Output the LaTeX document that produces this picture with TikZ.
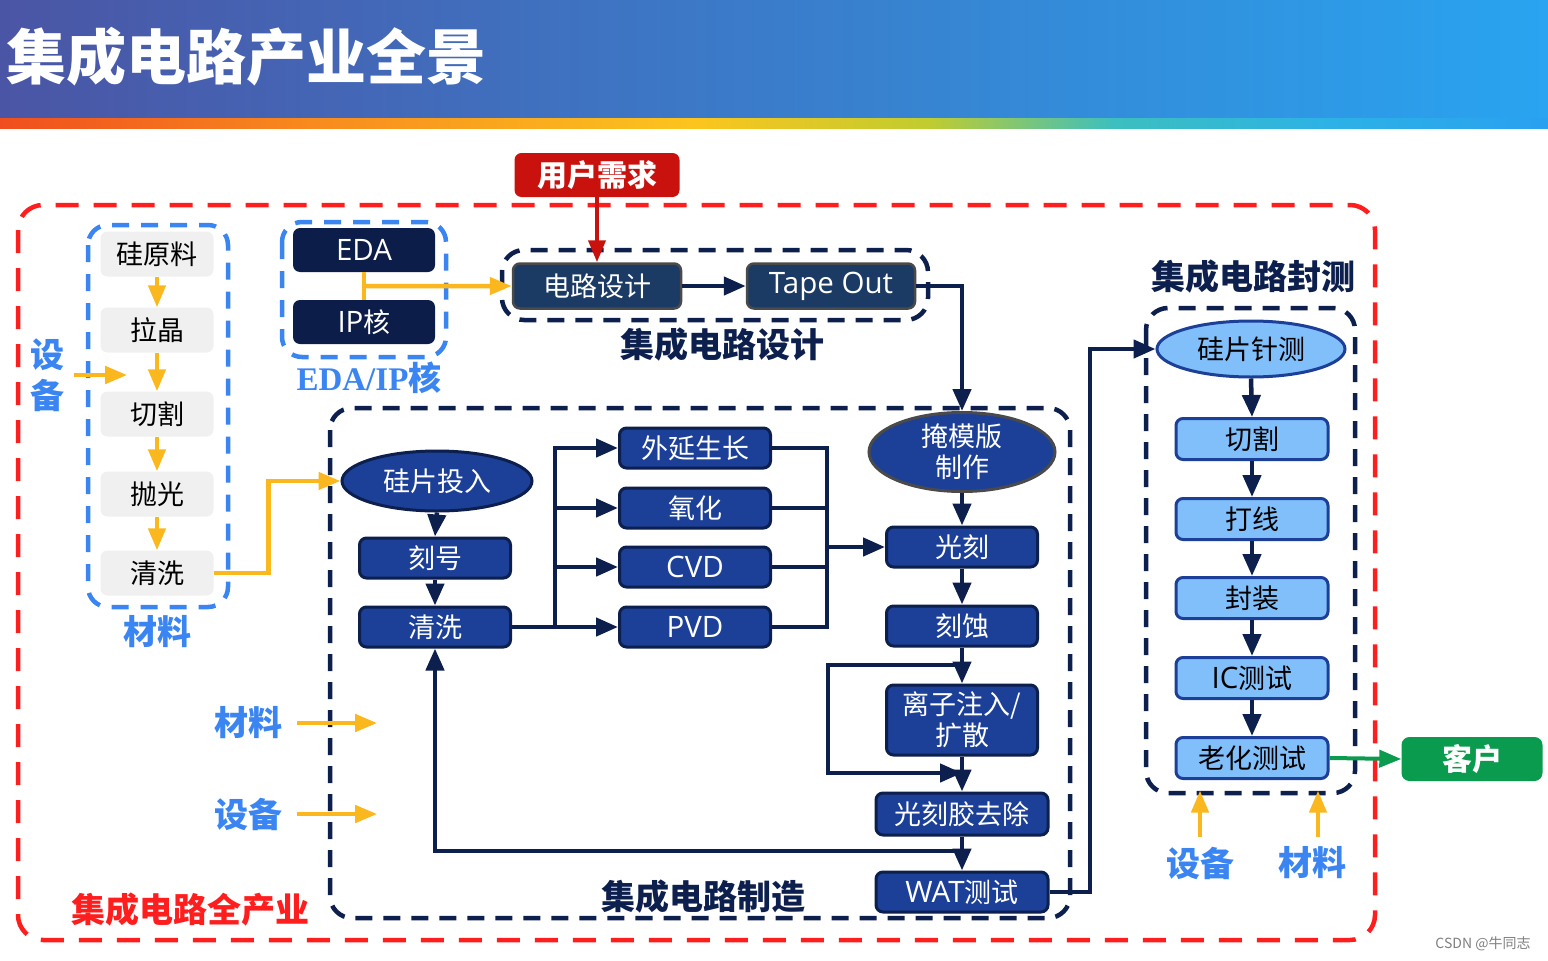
\documentclass[tikz,border=0pt]{standalone}
\usepackage{fontspec}
\usetikzlibrary{arrows.meta,shapes.geometric,calc}
\setmainfont{Noto Sans CJK SC}
\newfontfamily\os{Open Sans}
\newfontfamily\tms{Liberation Serif}
\newcommand{\lat}[1]{{\os\fontsize{29.5}{33}\selectfont #1}}
\definecolor{navy}{HTML}{0C1F4D}
\definecolor{pblue}{HTML}{1C3F98}
\definecolor{edanavy}{HTML}{0B1D48}
\definecolor{dslate}{HTML}{1B3A64}
\definecolor{dgray}{HTML}{4A4A4A}
\definecolor{lblue}{HTML}{80BFFA}
\definecolor{boxgray}{HTML}{F0F0F0}
\definecolor{yel}{HTML}{FBB71E}
\definecolor{dred}{HTML}{FF1E1E}
\definecolor{reqred}{HTML}{C9110E}
\definecolor{lblb}{HTML}{3A85F2}
\definecolor{grn}{HTML}{0B9B4E}
\definecolor{tl}{HTML}{4B55A5}
\definecolor{tm}{HTML}{3579CB}
\definecolor{tr}{HTML}{29A4F0}
\definecolor{s1}{HTML}{F04E1E}
\definecolor{s2}{HTML}{F88A1E}
\definecolor{s3}{HTML}{FBC51E}
\definecolor{s4}{HTML}{C0CC30}
\definecolor{s5}{HTML}{3CBFBF}
\definecolor{s6}{HTML}{2CB2E6}
\definecolor{s7}{HTML}{2AA0F0}
\pgfdeclarehorizontalshading{stripe}{100bp}{color(0bp)=(s1); color(25bp)=(s1); color(35bp)=(s2); color(47.5bp)=(s3); color(55bp)=(s4); color(61bp)=(s5); color(68bp)=(s6); color(75bp)=(s7); color(100bp)=(s7)}
\tikzset{
 txt/.style={font=\fontsize{27}{33}\selectfont},
 gbox/.style={txt, fill=boxgray, rounded corners=7pt, minimum width=113pt, minimum height=45pt, inner sep=0pt, text=black},
 ebox/.style={txt, fill=edanavy, rounded corners=7pt, minimum width=142pt, minimum height=44pt, inner sep=0pt, text=white},
 dbox/.style={txt, fill=dslate, draw=dgray, line width=2.5pt, rounded corners=7pt, minimum width=168pt, minimum height=45pt, inner sep=0pt, text=white},
 pbox/.style={txt, fill=pblue, draw=navy, line width=3pt, rounded corners=7pt, minimum width=151pt, minimum height=40pt, inner sep=0pt, text=white},
 pell/.style={txt, ellipse, fill=pblue, draw=navy, line width=3pt, inner sep=0pt, text=white, align=center},
 lbox/.style={txt, fill=lblue, draw=pblue, line width=3pt, rounded corners=7pt, minimum width=152pt, minimum height=41pt, inner sep=0pt, text=black},
 nav/.style={draw=navy, line width=4.5pt},
 nava/.style={nav, -{Triangle[length=22pt,width=18pt]}},
 ya/.style={draw=yel, line width=4.5pt, -{Triangle[length=22pt,width=17pt]}},
 bluelbl/.style={text=lblb, font=\bfseries\fontsize{34}{41}\selectfont, inner sep=0pt, align=center},
 navylbl/.style={text=navy, font=\bfseries\fontsize{34}{36}\selectfont, inner sep=0pt},
 reddash/.style={draw=dred, line width=4.5pt, dash pattern=on 23pt off 15pt, rounded corners=25pt},
 navydash/.style={draw=navy, line width=4.5pt, dash pattern=on 17pt off 11pt, rounded corners=22pt},
 bluedash/.style={draw=lblb, line width=4.5pt, dash pattern=on 17pt off 12pt, rounded corners=20pt},
}
\begin{document}
\begin{tikzpicture}[x=1pt,y=-1pt]
\useasboundingbox (0,0) rectangle (1548,961);
\fill[white] (0,0) rectangle (1548,961);
% title bar
\shade[left color=tl, middle color=tm, right color=tr] (0,0) rectangle (1548,118);
\shade[shading=stripe] (0,118) rectangle (1548,128);
\node[anchor=west, text=white, inner sep=0pt, font=\bfseries\fontsize{60}{60}\selectfont] (title) at (6,57) {集成电路产业全景};

% dashed frames
\draw[reddash] (18,205) rectangle (1375,940);
\draw[bluedash] (88,225) rectangle (228,607);
\draw[bluedash] (282,222) rectangle (446,357);
\draw[navydash] (502,250) rectangle (928,320);
\draw[navydash] (330,408) rectangle (1070,918);
\draw[navydash] (1146,308) rectangle (1355,793);

% labels
\node[bluelbl] (lbequip) at (47,375) {设\\备};
\node[bluelbl] (lbmat) at (157,632) {材料};
\node[text=lblb, inner sep=0pt, font=\fontsize{33}{36}\selectfont] (lbeda) at (369,378) {{\tms\bfseries EDA/IP}\bfseries 核};
\node[navylbl] (lbdesign) at (722,345) {集成电路设计};
\node[navylbl] (lbfab) at (703,897) {集成电路制造};
\node[navylbl] (lbpkg) at (1253,277) {集成电路封测};
\node[text=dred, inner sep=0pt, font=\bfseries\fontsize{34}{36}\selectfont] (lball) at (190,910) {集成电路全产业};
\node[bluelbl] (lbmat2) at (248,723) {材料};
\node[bluelbl] (lbequip2) at (248,814) {设备};
\node[bluelbl] (lbequip3) at (1200,863) {设备};
\node[bluelbl] (lbmat3) at (1312,863) {材料};
\node[text=gray, inner sep=0pt, font=\fontsize{14}{16}\selectfont] (wm) at (1483,944) {CSDN @牛同志};

% materials chain
\node[gbox] (m1) at (157,254) {硅原料};
\node[gbox] (m2) at (157,330) {拉晶};
\node[gbox] (m3) at (157,414) {切割};
\node[gbox] (m4) at (157,494) {抛光};
\node[gbox] (m5) at (157,573) {清洗};

% EDA / IP
\node[ebox] (eda) at (364,250) {\lat{EDA}};
\node[ebox] (ip) at (364,322) {\lat{IP}核};

% requirement and design
\node[fill=reqred, rounded corners=7pt, minimum width=165pt, minimum height=44pt, inner sep=0pt, text=white, font=\bfseries\fontsize{30}{32}\selectfont] (req) at (597,175) {用户需求};
\node[dbox] (cd) at (597,286) {电路设计};
\node[dbox] (tape) at (831,286) {\lat{Tape Out}};

% fabrication
\node[pell, minimum width=190pt, minimum height=60pt] (wafer) at (437,481) {硅片投入};
\node[pbox] (mark) at (435,558) {刻号};
\node[pbox] (clean) at (435,627) {清洗};
\node[pbox] (epi) at (695,448) {外延生长};
\node[pbox] (ox) at (695,508) {氧化};
\node[pbox] (cvd) at (695,567) {\lat{CVD}};
\node[pbox] (pvd) at (695,627) {\lat{PVD}};
\node[pell, draw=dgray, minimum width=186pt, minimum height=74pt] (mask) at (962,452) {掩模版\\[-2pt]制作};
\node[pbox] (litho) at (962,547) {光刻};
\node[pbox] (etch) at (962,626) {刻蚀};
\node[pbox, minimum height=70pt, align=center, font=\fontsize{27}{31}\selectfont] (ion) at (962,720) {离子注入/\\扩散};
\node[pbox, minimum width=172pt, minimum height=42pt] (strip) at (962,814) {光刻胶去除};
\node[pbox, minimum width=172pt, minimum height=40pt] (wat) at (962,892) {\lat{WAT}测试};

% packaging / test
\node[pell, fill=lblue, draw=pblue, text=black, minimum width=188pt, minimum height=56pt] (probe) at (1251,349) {硅片针测};
\node[lbox] (dice) at (1252,439) {切割};
\node[lbox] (bond) at (1252,519) {打线};
\node[lbox] (pack) at (1252,598) {封装};
\node[lbox] (ict) at (1252,678) {\lat{IC}测试};
\node[lbox] (burn) at (1252,758) {老化测试};
\node[fill=grn, rounded corners=8pt, minimum width=141pt, minimum height=44pt, inner sep=0pt, text=white, font=\bfseries\fontsize{30}{32}\selectfont] (cust) at (1472,759) {客户};

% yellow arrows, materials
\draw[ya] (m1) -- (m2);
\draw[ya] (m2) -- (m3);
\draw[ya] (m3) -- (m4);
\draw[ya] (m4) -- (m5);
\draw[ya] ([xshift=10pt]lbequip.east) -- ++(53,0);
\draw[ya] (m5.east) -- ++(55,0) |- (wafer.west);
\draw[draw=yel, line width=4.5pt] (eda.south) -- (ip.north);
\draw[ya] ($(eda.south)!0.5!(ip.north)$) -- (cd.west);
\draw[ya] ([xshift=15pt]lbmat2.east) -- ++(80,0);
\draw[ya] ([xshift=15pt]lbequip2.east) -- ++(80,0);
\draw[ya] ([yshift=10pt]lbequip3.north) -- ++(0,-46);
\draw[ya] ([xshift=6pt,yshift=10pt]lbmat3.north) -- ++(0,-46);

% requirement and design arrows
\draw[draw=reqred, line width=4pt, -{Triangle[length=22pt,width=17pt]}] (req.south) -- (cd.north);
\draw[nava] (cd.east) -- (tape.west);
\draw[nava] (tape.east) -| (mask.north);

% fabrication arrows
\draw[nava] (wafer.south) -- (mark.north);
\draw[nava] (mark.south) -- (clean.north);
\coordinate (fk) at (555,627);
\draw[nava] (clean.east) -- (pvd.west);
\draw[nava] (fk) |- (epi.west);
\draw[nava] (fk) |- (ox.west);
\draw[nava] (fk) |- (cvd.west);
\coordinate (mg) at (827,547);
\draw[nav] (epi.east) -| (mg);
\draw[nav] (ox.east) -| (mg);
\draw[nav] (cvd.east) -| (mg);
\draw[nav] (pvd.east) -| (mg);
\draw[nava] (mg) -- (litho.west);
\draw[nava] (mask.south) -- (litho.north);
\draw[nava] (litho.south) -- (etch.north);
\draw[nava] (etch.south) -- (ion.north);
\draw[nava] (ion.south) -- (strip.north);
\draw[nava] (strip.south) -- (wat.north);
\coordinate (b1) at (962,665);
\coordinate (b2) at (962,773);
\draw[nava] (b1) -- (828,665) -- (828,773) -- (b2);
\coordinate (fb) at (962,851);
\draw[nava] (fb) -| (clean.south);
\draw[nava] (wat.east) -- (1090,892) |- (probe.west);

% packaging arrows
\draw[nava] (probe.south) -- (dice.north);
\draw[nava] (dice.south) -- (bond.north);
\draw[nava] (bond.south) -- (pack.north);
\draw[nava] (pack.south) -- (ict.north);
\draw[nava] (ict.south) -- (burn.north);
\draw[draw=grn, line width=4pt, -{Triangle[length=22pt,width=17pt]}] (burn.east) -- (cust.west);
\end{tikzpicture}
\end{document}
